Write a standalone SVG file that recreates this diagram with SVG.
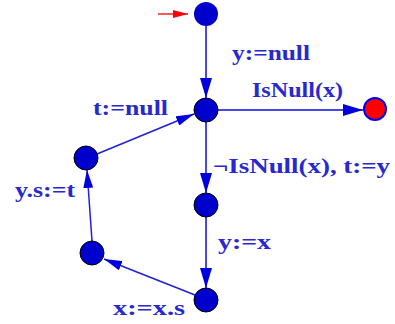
<svg xmlns="http://www.w3.org/2000/svg" width="395" height="324" viewBox="0 0 395 324">
<style>
.n{fill:#0000cc;stroke:#000;stroke-width:1}
.e{stroke:#4848e8;stroke-width:2;fill:none}
.d{stroke:#2020d8;stroke-width:1.5;fill:none}
.t{font-family:"Liberation Serif",serif;font-weight:bold;font-size:21px;fill:#2828d0}
</style>
<defs>
<marker id="a" viewBox="0 0 20 12" refX="20" refY="6" markerWidth="20" markerHeight="12" markerUnits="userSpaceOnUse" orient="auto"><path d="M0,0L20,6L0,12z" fill="#0000dd"/></marker>
<marker id="b" viewBox="0 0 18 10" refX="18" refY="5" markerWidth="18" markerHeight="10" markerUnits="userSpaceOnUse" orient="auto"><path d="M0,0L18,5L0,10z" fill="#0000dd"/></marker>
<marker id="r" viewBox="0 0 15 8" refX="15" refY="4" markerWidth="15" markerHeight="8" markerUnits="userSpaceOnUse" orient="auto"><path d="M0,0L15,4L0,8z" fill="#ff0000"/></marker>
</defs>
<g id="edges">
<line x1="158" y1="14" x2="188" y2="14" stroke="#ff2020" stroke-width="1.5" marker-end="url(#r)"/>
<line class="e" x1="206" y1="26" x2="206" y2="98" marker-end="url(#a)"/>
<line class="e" x1="218" y1="110" x2="363" y2="110" marker-end="url(#a)"/>
<line class="e" x1="206" y1="122" x2="206" y2="193" marker-end="url(#a)"/>
<line class="e" x1="206" y1="217" x2="206" y2="288" marker-end="url(#a)"/>
<line class="d" x1="195" y1="295" x2="104" y2="259" marker-end="url(#b)"/>
<line class="d" x1="92" y1="241" x2="87" y2="170" marker-end="url(#b)"/>
<line class="d" x1="97" y1="154" x2="194" y2="114" marker-end="url(#b)"/>
</g>
<g id="n0"><circle cx="206" cy="14" r="12" fill="#0000cc"/></g>
<g id="n1"><circle class="n" cx="206" cy="110" r="12"/></g>
<g id="nend"><circle cx="375" cy="109" r="11" fill="#ff0000" stroke="#0000ee" stroke-width="2"/></g>
<g id="n2"><circle class="n" cx="206" cy="205" r="12"/></g>
<g id="n3"><circle class="n" cx="206" cy="300" r="12"/></g>
<g id="n4"><circle class="n" cx="92" cy="253" r="12"/></g>
<g id="n5"><circle class="n" cx="86" cy="158" r="12"/></g>
<g id="labels">
<text class="t" x="232" y="60" textLength="78" lengthAdjust="spacingAndGlyphs">y:=null</text>
<text class="t" x="252" y="97" textLength="91" lengthAdjust="spacingAndGlyphs">IsNull(x)</text>
<text class="t" x="93" y="115" textLength="75" lengthAdjust="spacingAndGlyphs">t:=null</text>
<text class="t" x="213" y="173" textLength="177" lengthAdjust="spacingAndGlyphs">¬IsNull(x), t:=y</text>
<text class="t" x="15" y="197" textLength="60" lengthAdjust="spacingAndGlyphs">y.s:=t</text>
<text class="t" x="218" y="249" textLength="53" lengthAdjust="spacingAndGlyphs">y:=x</text>
<text class="t" x="113" y="315" textLength="72" lengthAdjust="spacingAndGlyphs">x:=x.s</text>
</g>
</svg>
